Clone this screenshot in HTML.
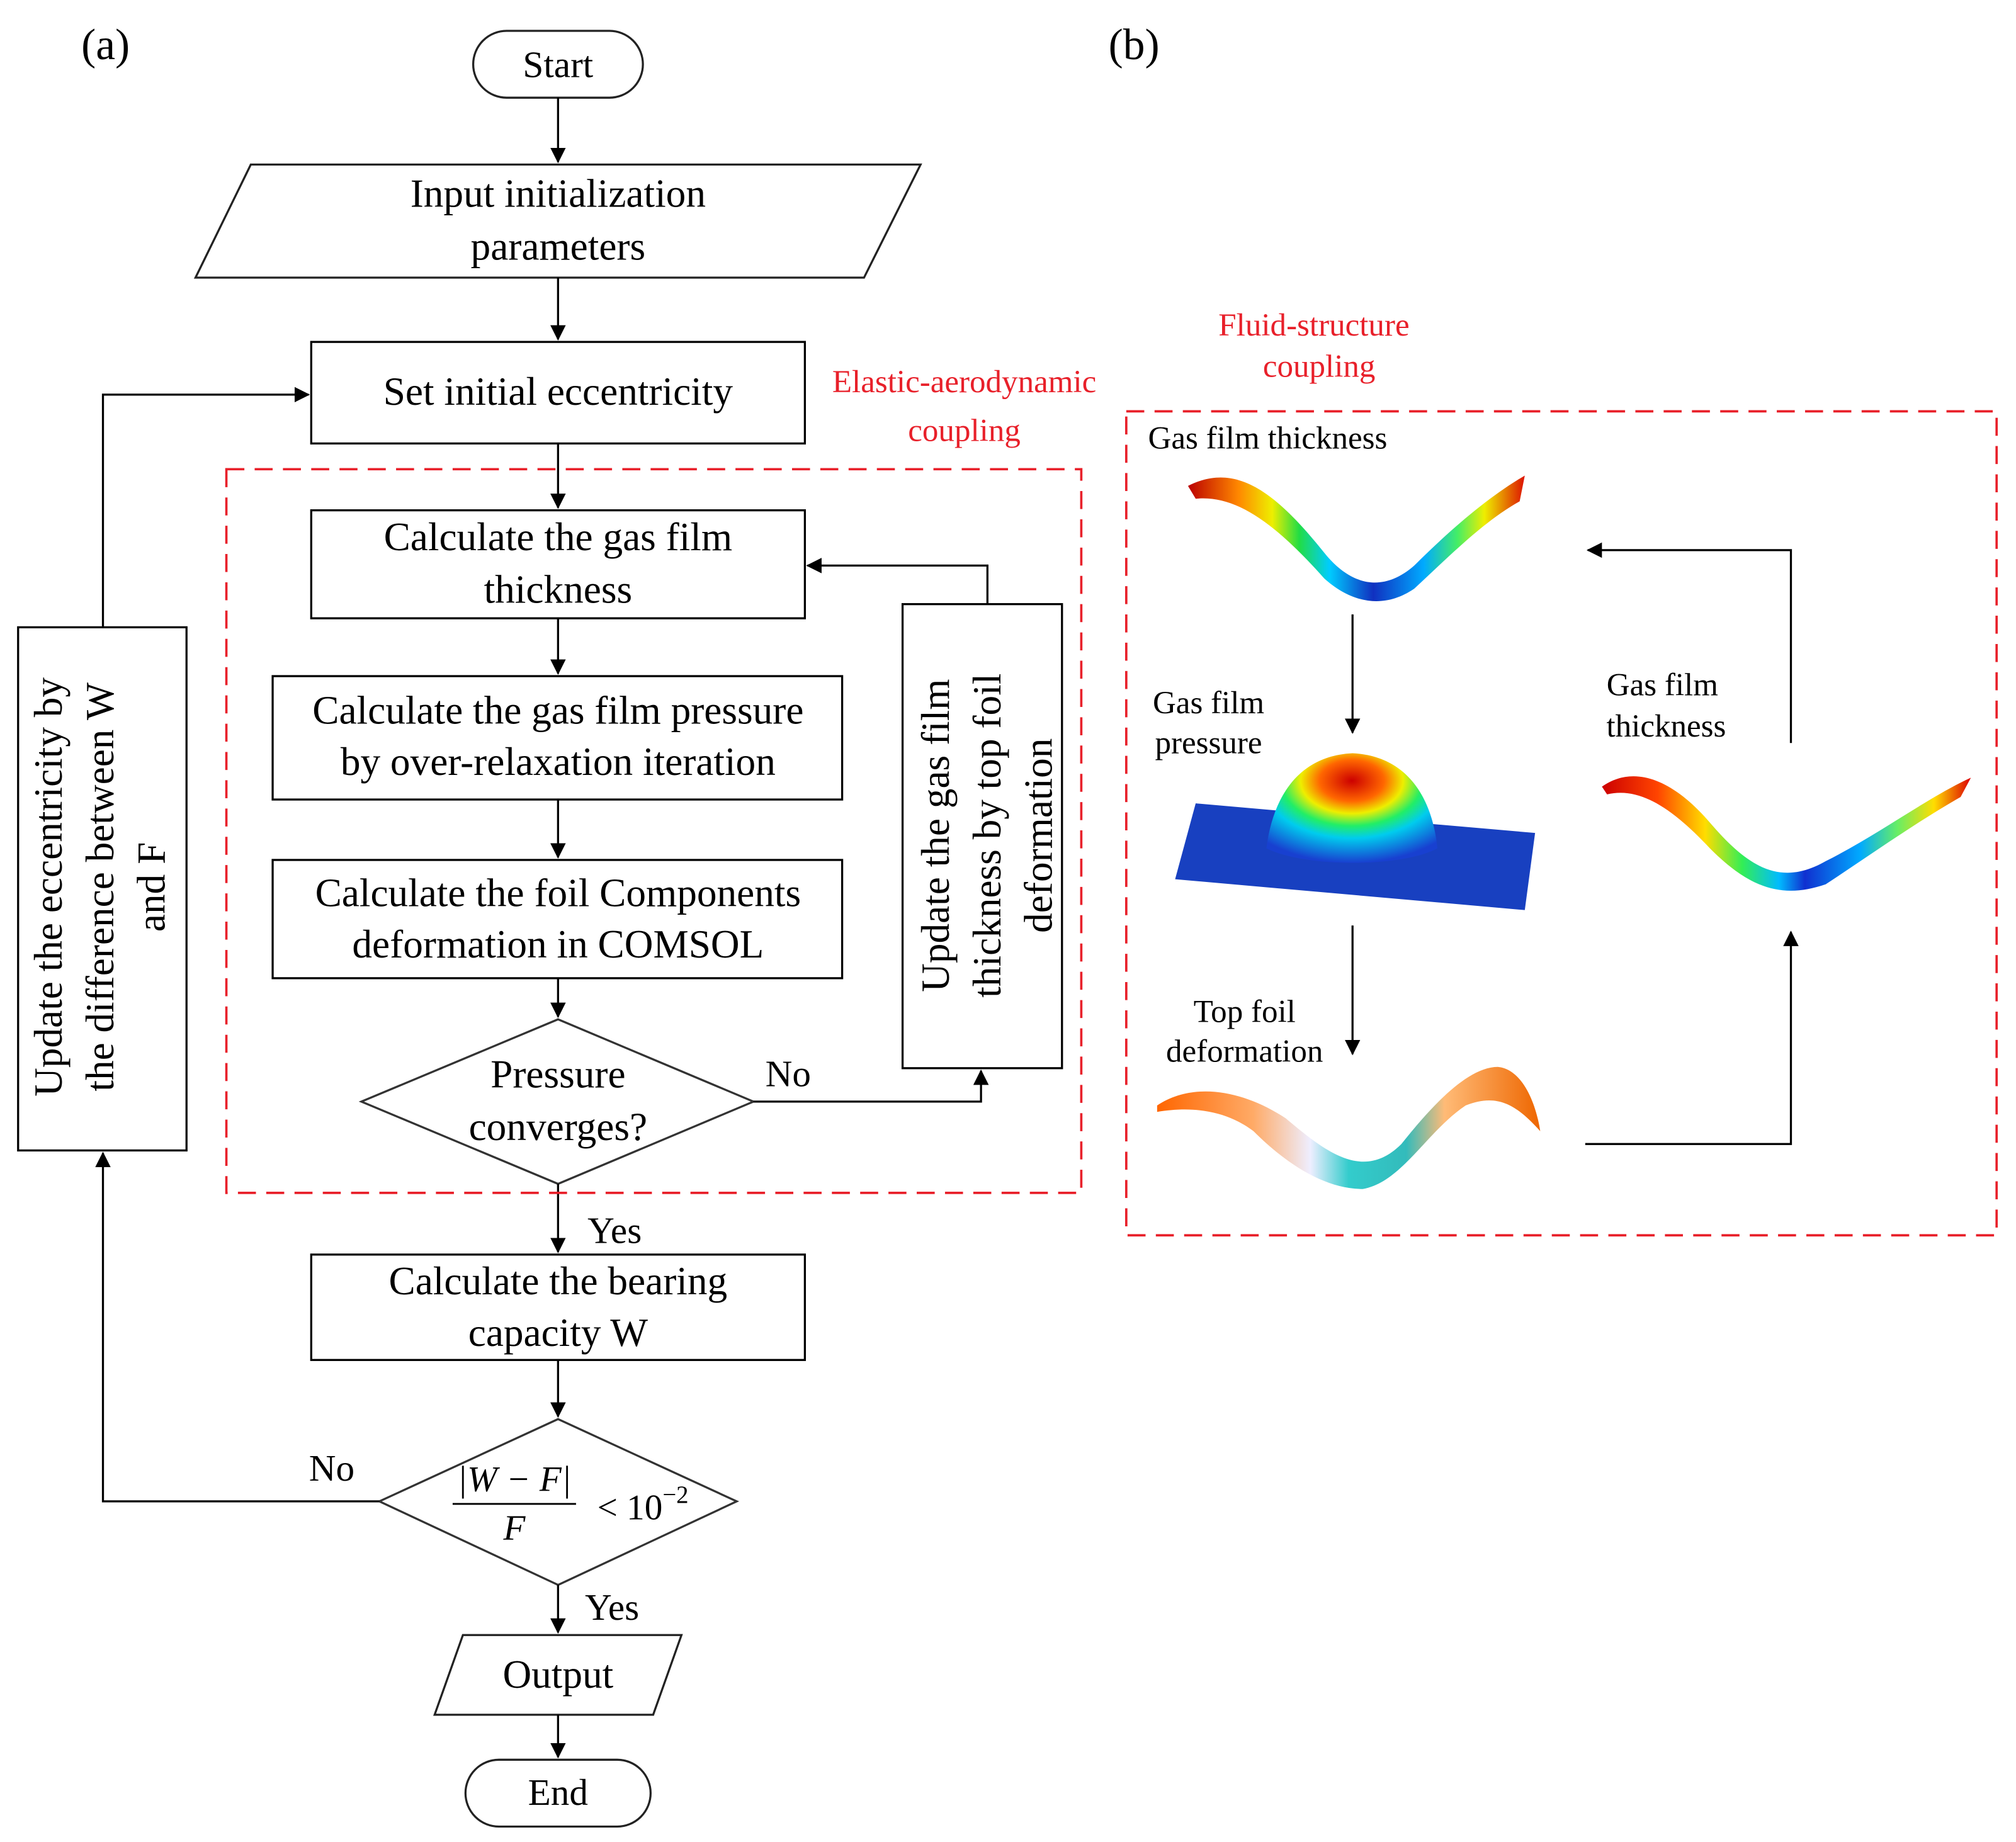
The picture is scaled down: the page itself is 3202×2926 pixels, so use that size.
<!DOCTYPE html>
<html><head><meta charset="utf-8"><style>html,body{margin:0;padding:0;background:#fff}svg{display:block}</style></head>
<body>
<svg width="3202" height="2926" viewBox="0 0 1568 1433" xmlns="http://www.w3.org/2000/svg" font-family="'Liberation Serif', serif">
<defs>
<marker id="ah" markerWidth="12" markerHeight="12" refX="11" refY="6" orient="auto" markerUnits="userSpaceOnUse"><path d="M0,0 L12,6 L0,12 z" fill="#000"/></marker>
<linearGradient id="g1" x1="0" x2="1" y1="0" y2="0">
<stop offset="0" stop-color="#b00"/><stop offset="0.15" stop-color="#f80"/><stop offset="0.25" stop-color="#ee0"/><stop offset="0.33" stop-color="#2d4"/><stop offset="0.42" stop-color="#0cf"/><stop offset="0.55" stop-color="#1030c0"/><stop offset="0.7" stop-color="#0af"/><stop offset="0.8" stop-color="#4e6"/><stop offset="0.88" stop-color="#ee0"/><stop offset="1" stop-color="#d10"/></linearGradient>
<radialGradient id="g2" cx="0.5" cy="0.25" r="0.75">
<stop offset="0" stop-color="#c00"/><stop offset="0.25" stop-color="#f60"/><stop offset="0.4" stop-color="#ee0"/><stop offset="0.55" stop-color="#2e6"/><stop offset="0.7" stop-color="#0ce"/><stop offset="1" stop-color="#1840d0"/></radialGradient>
<linearGradient id="g3" x1="0" x2="1" y1="0" y2="0">
<stop offset="0" stop-color="#f60"/><stop offset="0.25" stop-color="#fa6"/><stop offset="0.4" stop-color="#eef"/><stop offset="0.5" stop-color="#3cc"/><stop offset="0.65" stop-color="#3bb"/><stop offset="0.75" stop-color="#fb7"/><stop offset="1" stop-color="#e60"/></linearGradient>
<linearGradient id="g4" x1="0" x2="1" y1="0" y2="0">
<stop offset="0" stop-color="#c00"/><stop offset="0.15" stop-color="#f40"/><stop offset="0.28" stop-color="#fd0"/><stop offset="0.38" stop-color="#3e5"/><stop offset="0.48" stop-color="#0bf"/><stop offset="0.55" stop-color="#1030d0"/><stop offset="0.7" stop-color="#0af"/><stop offset="0.8" stop-color="#6e6"/><stop offset="0.9" stop-color="#fd0"/><stop offset="1" stop-color="#d00"/></linearGradient>
</defs>
<g fill="none" stroke="#000" stroke-width="1.6">
<rect x="368" y="24" width="132" height="52" rx="26" fill="#fff" stroke="#222"/>
<polygon points="195,128 716,128 672,216 152,216" stroke="#222"/>
<rect x="242" y="266" width="384" height="79"/>
<rect x="242" y="397" width="384" height="84"/>
<rect x="212" y="526" width="443" height="96"/>
<rect x="212" y="669" width="443" height="92"/>
<polygon points="434,793 586,857 434,921 281,857" stroke="#333"/>
<rect x="702" y="470" width="124" height="361"/>
<rect x="242" y="976" width="384" height="82"/>
<polygon points="434,1104 573,1168 434,1233 295,1168" stroke="#333"/>
<rect x="14" y="488" width="131" height="407"/>
<polygon points="360,1272 530,1272 508,1334 338,1334" stroke="#222"/>
<rect x="362" y="1369" width="144" height="52" rx="26" stroke="#222"/>
<line x1="434" y1="76" x2="434" y2="126" marker-end="url(#ah)"/>
<line x1="434" y1="216" x2="434" y2="264" marker-end="url(#ah)"/>
<line x1="434" y1="345" x2="434" y2="395" marker-end="url(#ah)"/>
<line x1="434" y1="481" x2="434" y2="524" marker-end="url(#ah)"/>
<line x1="434" y1="622" x2="434" y2="667" marker-end="url(#ah)"/>
<line x1="434" y1="761" x2="434" y2="791" marker-end="url(#ah)"/>
<line x1="434" y1="921" x2="434" y2="974" marker-end="url(#ah)"/>
<line x1="434" y1="1058" x2="434" y2="1102" marker-end="url(#ah)"/>
<line x1="434" y1="1233" x2="434" y2="1270" marker-end="url(#ah)"/>
<line x1="434" y1="1334" x2="434" y2="1367" marker-end="url(#ah)"/>
<polyline points="586,857 763,857 763,833" marker-end="url(#ah)"/>
<polyline points="768,470 768,440 628,440" marker-end="url(#ah)"/>
<polyline points="295,1168 80,1168 80,897" marker-end="url(#ah)"/>
<polyline points="80,488 80,307 240,307" marker-end="url(#ah)"/>
<line x1="1052" y1="478" x2="1052" y2="570" marker-end="url(#ah)"/>
<line x1="1052" y1="720" x2="1052" y2="820" marker-end="url(#ah)"/>
<polyline points="1233,890 1393,890 1393,725" marker-end="url(#ah)"/>
<polyline points="1393,578 1393,428 1235,428" marker-end="url(#ah)"/>
</g>
<g fill="none" stroke="#e8202a" stroke-width="1.8" stroke-dasharray="14,8">
<rect x="176" y="365" width="665" height="563"/>
<rect x="876" y="320" width="677" height="641"/>
</g>
<path d="M924,378 C960,360 990,380 1030,430 C1050,455 1075,462 1100,440 C1130,410 1160,385 1186,370 L1182,390 C1155,405 1130,430 1100,458 C1075,475 1050,468 1030,450 C990,405 960,385 930,388 Z" fill="url(#g1)"/>
<polygon points="930,625 1194,648 1186,708 914,684" fill="#1840c0"/>
<path d="M985,660 C990,620 1010,588 1052,586 C1094,588 1114,620 1118,660 C1090,675 1015,675 985,660 Z" fill="url(#g2)"/>
<path d="M900,860 C930,840 970,850 1000,870 C1030,895 1060,920 1090,890 C1110,865 1140,830 1165,830 C1185,832 1195,860 1198,880 C1180,860 1165,850 1140,860 C1110,880 1090,920 1060,925 C1030,925 1000,905 975,880 C955,865 930,860 900,865 Z" fill="url(#g3)"/>
<path d="M1246,612 C1270,595 1300,605 1330,640 C1360,675 1385,690 1420,670 C1460,650 1500,620 1533,605 L1525,620 C1490,640 1455,665 1420,688 C1385,700 1360,690 1330,660 C1300,628 1275,612 1250,618 Z" fill="url(#g4)"/>
<g font-size="31" text-anchor="middle" fill="#000">
<text x="82" y="46" font-size="34">(a)</text>
<text x="882" y="46" font-size="34">(b)</text>
<text x="434" y="60" font-size="29">Start</text>
<text x="434" y="161">Input initialization</text>
<text x="434" y="202">parameters</text>
<text x="434" y="315">Set initial eccentricity</text>
<text x="434" y="428">Calculate the gas film</text>
<text x="434" y="469">thickness</text>
<text x="434" y="563">Calculate the gas film pressure</text>
<text x="434" y="603">by over-relaxation iteration</text>
<text x="434" y="705">Calculate the foil Components</text>
<text x="434" y="745">deformation in COMSOL</text>
<text x="434" y="846">Pressure</text>
<text x="434" y="887">converges?</text>
<text x="613" y="845" font-size="29">No</text>
<text x="478" y="967" font-size="29">Yes</text>
<text x="434" y="1007">Calculate the bearing</text>
<text x="434" y="1047">capacity W</text>
<text x="258" y="1152" font-size="29">No</text>
<text x="476" y="1260" font-size="29">Yes</text>
<text x="434" y="1313">Output</text>
<text x="434" y="1404" font-size="29">End</text>
<g transform="translate(764,650) rotate(-90)">
<text x="0" y="-26">Update the gas film</text>
<text x="0" y="14">thickness by top foil</text>
<text x="0" y="54">deformation</text>
</g>
<g transform="translate(80,690) rotate(-90)">
<text x="0" y="-32">Update the eccentricity by</text>
<text x="0" y="8">the difference between W</text>
<text x="0" y="48">and F</text>
</g>
<g font-style="italic" font-size="28">
<text x="400" y="1160">|W − F|</text>
<text x="400" y="1198">F</text>
</g>
<line x1="352" y1="1170" x2="448" y2="1170" stroke="#000" stroke-width="1.4"/>
<text x="500" y="1182" font-size="28">&lt; 10<tspan font-size="19" dy="-13">−2</tspan></text>
<g fill="#e8202a" font-size="25">
<text x="750" y="305">Elastic-aerodynamic</text>
<text x="750" y="343">coupling</text>
<text x="1022" y="261">Fluid-structure</text>
<text x="1026" y="293">coupling</text>
</g>
<g font-size="25">
<text x="986" y="349">Gas film thickness</text>
<text x="940" y="555">Gas film</text>
<text x="940" y="586">pressure</text>
<text x="968" y="795">Top foil</text>
<text x="968" y="826">deformation</text>
<text x="1293" y="541">Gas film</text>
<text x="1296" y="573">thickness</text>
</g>
</g>
</svg>
</body></html>
